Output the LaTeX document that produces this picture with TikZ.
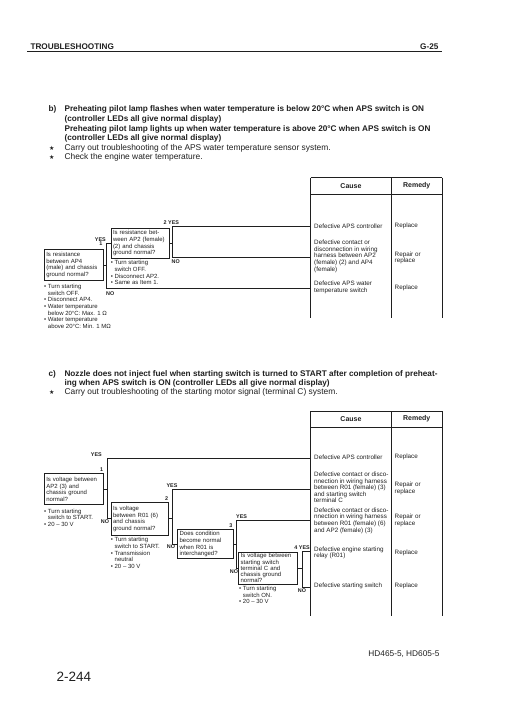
\documentclass[tikz,border=0pt]{standalone}
\usepackage{fontspec}
\setmainfont{Liberation Sans}
\newfontfamily\symfont{DejaVu Sans}
\colorlet{ink}{black!88}
\def\boxfont{\fontsize{6}{6.6}\selectfont}
\def\cellfont{\fontsize{6.3}{6.6}\selectfont}
\def\tagfont{\fontsize{5.4}{6}\selectfont\bfseries}
\def\headfont{\fontsize{8.2}{9}\selectfont\bfseries}
\def\titlefont{\fontsize{8.2}{9.8}\selectfont\bfseries}
\def\starfont{\fontsize{8.4}{9}\selectfont}
\def\notebul{\textbullet\ }
\def\noteind{\hphantom{\textbullet\ }}
\tikzset{qbox/.style={draw=ink, line width=1pt, anchor=north west, inner sep=1.8pt,
        align=left, font=\boxfont, text=ink},
    note/.style={anchor=west, inner sep=0pt, align=left, font=\boxfont, text=ink},
    cell/.style={anchor=west, inner sep=0pt, align=left, font=\cellfont, text=ink},
    tag/.style={inner sep=0pt, font=\tagfont, text=ink},
    conn/.style={draw=ink, line width=0.75pt},
    rule/.style={draw=ink, line width=0.75pt}}

\begin{document}
\begin{tikzpicture}[x=1pt,y=-1pt]
    \useasboundingbox (0,0) rectangle (510,721);
    % page head
    \node[anchor=base west, font=\headfont, text=ink] (pagehead) at (27,49.4) {TROUBLESHOOTING};
    \node[anchor=base east, font=\headfont, text=ink] (pageno) at (442,49.4) {G-25};
    \draw[ink, line width=1.1pt] (pagehead.base west) ++(0,2.2) -- ++(415,0);

    % b) heading
    \node[anchor=west, font=\titlefont, text=ink] (blabel) at (45,109.3) {b)};
    \node[anchor=west, font=\titlefont, text=ink, align=left] (btitle) at (61,124)
        {Preheating pilot lamp flashes when water temperature is below 20°C when APS switch is ON\\
         (controller LEDs all give normal display)\\
         Preheating pilot lamp lights up when water temperature is above 20°C when APS switch is ON\\
         (controller LEDs all give normal display)};
    \node[anchor=west, font=\symfont\fontsize{6}{6}\selectfont, text=ink] (bstara) at (45.5,148.3) {★};
    \node[anchor=west, font=\starfont, text=ink] (bnotea) at (61,148.3)
        {Carry out troubleshooting of the APS water temperature sensor system.};
    \node[anchor=west, font=\symfont\fontsize{6}{6}\selectfont, text=ink] (bstarb) at (45.5,157.3) {★};
    \node[anchor=west, font=\starfont, text=ink] (bnoteb) at (61,157.3)
        {Check the engine water temperature.};

    % b) cause / remedy table
    \foreach \x in {310.5,391.5,442} \draw[rule] (\x,177.5) -- (\x,318);
    \draw[rule] (310.5,177.5) -- (442,177.5) (310.5,194.5) -- (442,194.5);
    \node[font=\fontsize{7}{8}\selectfont\bfseries, text=ink] (bcause) at (351,186) {Cause};
    \node[font=\fontsize{7}{8}\selectfont\bfseries, text=ink] (bremedy) at (416.75,186) {Remedy};
    \node[cell] (bcausea) at (314,226) {Defective APS controller};
    \node[cell] (bfixa) at (394.5,226) {Replace};
    \node[cell] (bcauseb) at (314,256.3) {Defective contact or\\disconnection in wiring\\harness between AP2\\(female) (2) and AP4\\(female)};
    \node[cell] (bfixb) at (394.5,258) {Repair or\\replace};
    \node[cell] (bcausec) at (314,287.5) {Defective APS water\\temperature switch};
    \node[cell] (bfixc) at (394.5,288) {Replace};
    \coordinate (browa) at (310.5,226);
    \coordinate (browb) at (310.5,257.5);
    \coordinate (browc) at (310.5,288);

    % b) checks
    \node[qbox, text width=55.4pt, minimum height=31pt] (b1) at (44,249)
        {Is resistance\\between AP4\\(male) and chassis\\ground normal?};
    \node[qbox, text width=54.2pt, minimum height=29.5pt] (b2) at (110.7,228)
        {Is resistance bet-\\ween AP2 (female)\\(2) and chassis\\ground normal?};
    \node[note] (b1note) at (44,306.3)
        {\notebul Turn starting\\\noteind switch OFF.\\\notebul Disconnect AP4.\\\notebul Water temperature\\
         \noteind below 20°C: Max. 1 Ω\\\notebul Water temperature\\\noteind above 20°C: Min. 1 MΩ};
    \node[note] (b2note) at (110.7,272.7)
        {\notebul Turn starting\\\noteind switch OFF.\\\notebul Disconnect AP2.\\\notebul Same as Item 1.};

    \coordinate (b1v) at (106,288);
    \draw[conn] (b2.west) -| (b1v) -- (browc);
    \draw[conn] (b1.east) -- (b1.east -| b1v);
    \coordinate (b2v) at (172,257.5);
    \draw[conn] (browa) -| (b2v) -- (browb);
    \draw[conn] (b2.east) -- (b2.east -| b2v);

    \node[tag, anchor=base east] (byes1) at (106,241.5) {YES};
    \node[tag, anchor=north east] (bnum1) at (102.5,242) {1};
    \node[tag, anchor=base west] (byes2) at (163.5,224.5) {2 YES};
    \node[tag, anchor=north west] (bno1) at (106,292) {NO};
    \node[tag, anchor=north west] (bno2) at (171.5,259.8) {NO};

    % c) heading
    \node[anchor=west, font=\titlefont, text=ink] (clabel) at (45,374) {c)};
    \node[anchor=west, font=\fontsize{8.2}{9.5}\selectfont\bfseries, text=ink, align=left] (ctitle) at (61,378.75)
        {Nozzle does not inject fuel when starting switch is turned to START after completion of preheat-\\
         ing when APS switch is ON (controller LEDs all give normal display)};
    \node[anchor=west, font=\symfont\fontsize{6}{6}\selectfont, text=ink] (cstara) at (45.5,392.5) {★};
    \node[anchor=west, font=\starfont, text=ink] (cnotea) at (61,392.5)
        {Carry out troubleshooting of the starting motor signal (terminal C) system.};

    % c) cause / remedy table
    \foreach \x in {310.5,391.5,442} \draw[rule] (\x,411) -- (\x,616);
    \draw[rule] (310.5,411) -- (442,411) (310.5,427) -- (442,427);
    \node[font=\fontsize{7}{8}\selectfont\bfseries, text=ink] (ccause) at (351,419) {Cause};
    \node[font=\fontsize{7}{8}\selectfont\bfseries, text=ink] (cremedy) at (416.75,419) {Remedy};
    \node[cell] (ccausea) at (314,457) {Defective APS controller};
    \node[cell] (cfixa) at (394.5,457) {Replace};
    \node[cell] (ccauseb) at (314,487.5) {Defective contact or disco-\\nnection in wiring harness\\between R01 (female) (3)\\and starting switch\\terminal C};
    \node[cell] (cfixb) at (394.5,488.3) {Repair or\\replace};
    \node[cell] (ccausec) at (314,520.5) {Defective contact or disco-\\nnection in wiring harness\\between R01 (female) (6)\\and AP2 (female) (3)};
    \node[cell] (cfixc) at (394.5,520.3) {Repair or\\replace};
    \node[cell] (ccaused) at (314,552.7) {Defective engine starting\\relay (R01)};
    \node[cell] (cfixd) at (394.5,552.7) {Replace};
    \node[cell] (ccausee) at (314,585.5) {Defective starting switch};
    \node[cell] (cfixe) at (394.5,585.5) {Replace};
    \coordinate (crowa) at (310.5,458);
    \coordinate (crowb) at (310.5,489);
    \coordinate (crowc) at (310.5,520.7);
    \coordinate (crowd) at (310.5,551.7);
    \coordinate (crowe) at (310.5,587);

    % c) checks
    \node[qbox, text width=55.4pt, minimum height=31pt] (c1) at (44,473.3)
        {Is voltage between\\AP2 (3) and\\chassis ground\\normal?};
    \node[qbox, text width=54pt, minimum height=33.3pt] (c2) at (110.7,501.7)
        {Is voltage\\between R01 (6)\\and chassis\\ground normal?};
    \node[qbox, text width=51.8pt, minimum height=27pt] (c3) at (177.3,529.3)
        {Does condition\\become normal\\when R01 is\\interchanged?};
    \node[qbox, text width=55.4pt, minimum height=32pt, font=\fontsize{6}{6.1}\selectfont, inner ysep=1pt] (c4) at (238.3,551.5)
        {Is voltage between\\starting switch\\terminal C and\\chassis ground\\normal?};
    \node[note] (c1note) at (44,517.5)
        {\notebul Turn starting\\\noteind switch to START.\\\notebul 20 -- 30 V};
    \node[note] (c2note) at (110.7,553)
        {\notebul Turn starting\\\noteind switch to START.\\\notebul Transmission\\\noteind neutral\\\notebul 20 -- 30 V};
    \node[note] (c4note) at (239,595)
        {\notebul Turn starting\\\noteind switch ON.\\\notebul 20 -- 30 V};

    \coordinate (c1v) at (107,458);
    \draw[conn] (crowa) -- (c1v) |- (c2.west);
    \draw[conn] (c1.east) -- (c1.east -| c1v);
    \coordinate (c2v) at (172,489);
    \draw[conn] (crowb) -- (c2v) |- (c3.west);
    \draw[conn] (c2.east) -- (c2.east -| c2v);
    \coordinate (c3v) at (236,520.7);
    \draw[conn] (crowc) -- (c3v) |- (c4.west);
    \draw[conn] (c3.east) -- (c3.east -| c3v);
    \coordinate (c4v) at (302.7,551.7);
    \coordinate (c4n) at (302.7,587);
    \draw[conn] (crowd) -- (c4v) -- (c4n) -- (crowe);
    \draw[conn] (c4.east) -- (c4.east -| c4v);

    \node[tag, anchor=south east] (cyes1) at (102,456.5) {YES};
    \node[tag, anchor=south east] (cnum1) at (103.3,472) {1};
    \node[tag, anchor=south] (cyes2) at (172,487.5) {YES};
    \node[tag, anchor=south east] (cnum2) at (168.3,500.5) {2};
    \node[tag, anchor=south west] (cyes3) at (236,519) {YES};
    \node[tag, anchor=south east] (cnum3) at (232.7,528) {3};
    \node[tag, anchor=south east] (cyes4) at (310,550.2) {4 YES};
    \node[tag, anchor=north] (cno1) at (105,520) {NO};
    \node[tag, anchor=north] (cno2) at (171,545) {NO};
    \node[tag, anchor=north] (cno3) at (234,569.5) {NO};
    \node[tag, anchor=north] (cno4) at (302,589) {NO};

    % page foot
    \node[anchor=east, font=\fontsize{8.3}{9}\selectfont, text=ink] (model) at (443,654) {HD465-5, HD605-5};
    \node[anchor=west, font=\fontsize{13.5}{14}\selectfont, text=ink] (pagenum) at (53,677) {2-244};
\end{tikzpicture}
\end{document}
